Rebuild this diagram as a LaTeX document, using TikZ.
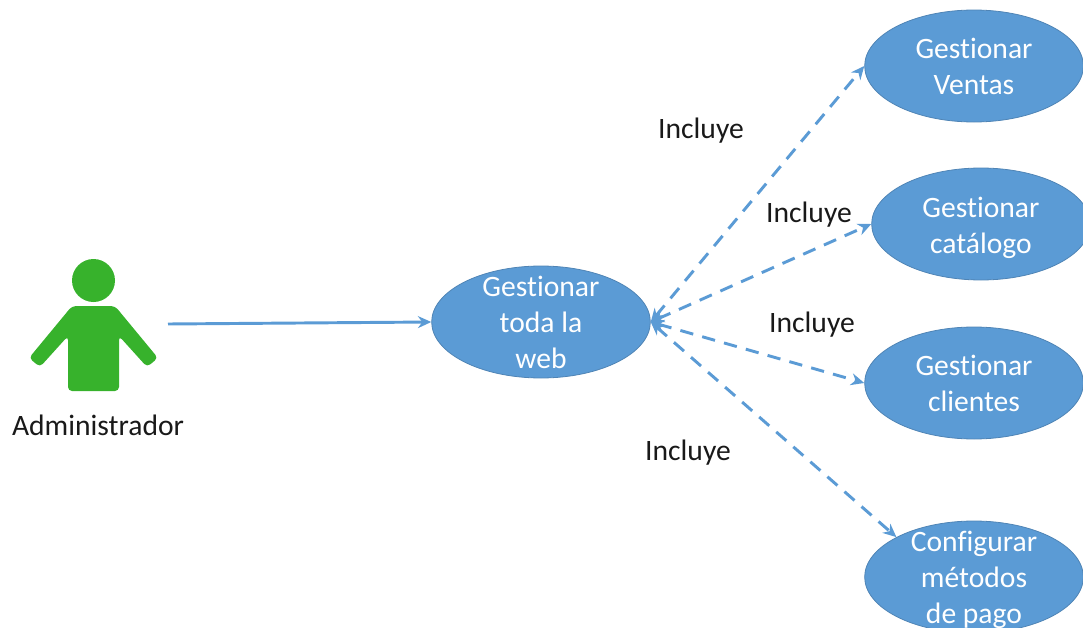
\documentclass[tikz,border=0pt]{standalone}
\usepackage{fontspec}
\setmainfont[Ligatures=NoCommon]{Carlito}
\usetikzlibrary{shapes.geometric,arrows.meta}
\definecolor{casefill}{HTML}{5B9BD5}
\definecolor{caseline}{HTML}{4F84B5}
\definecolor{actorgreen}{HTML}{37B22C}
\newcommand{\topgap}[1]{\rule{0pt}{#1}}
\begin{document}
\begin{tikzpicture}[x=0.75pt,y=-0.75pt]
	\tikzset{
		usecase/.style={ellipse, draw=caseline, fill=casefill, line width=0.6pt, minimum width=164pt, minimum height=84pt, inner xsep=0pt, inner ysep=-16pt, text=white, align=center, font=\fontsize{22.2}{27}\selectfont},
		tag/.style={font=\fontsize{22.2}{24}\selectfont, text=black!90},
		incl/.style={draw=casefill, line width=2.2pt, dash pattern=on 10pt off 7pt, {Stealth[length=10pt,width=9pt]}-{Stealth[length=10pt,width=9pt]}},
		assoc/.style={draw=casefill, line width=2.2pt, -{Stealth[length=10pt,width=9pt]}}
	}
	\useasboundingbox (0,0) rectangle (1083,628);
	\clip (0,0) rectangle (1083,628);
	% actor
	\fill [actorgreen] (93.5,280.5) circle (21.5);
	\fill [actorgreen, rounded corners=3pt]
			(72,306) -- (115,306) -- (158,358) -- (147,367) -- (119,336)
			-- (119,391) -- (68,391) -- (68,336) -- (40,367) -- (29,358) -- cycle;
	\node[tag] (admin) at (98,425) {Administrador};
	\coordinate (actor) at (168,324);
	% use cases
	\node[usecase] (web) at (541,322) {Gestionar\\toda la\\web};
	\node[usecase] (ventas) at (974,66) {Gestionar\\Ventas};
	\node[usecase] (catalogo) at (981,224) {\topgap{21pt}Gestionar\\catálogo};
	\node[usecase] (clientes) at (974,383) {Gestionar\\clientes};
	\node[usecase] (pago) at (974,577) {\topgap{20pt}Configurar\\métodos\\de pago};
	% labels
	\node[tag] (t1) at (701,131) {Incluye};
	\node[tag] (t2) at (809,215) {Incluye};
	\node[tag] (t3) at (812,325) {Incluye};
	\node[tag] (t4) at (688,453) {Incluye};
	% connectors
	\draw[assoc] (actor) -- (web.west);
	\draw[incl] (web.east) -- (ventas.west);
	\draw[incl] (web.east) -- (catalogo.west);
	\draw[incl] (web.east) -- (clientes.west);
	\draw[incl] (web.east) -- (pago.north west);
\end{tikzpicture}
\end{document}
